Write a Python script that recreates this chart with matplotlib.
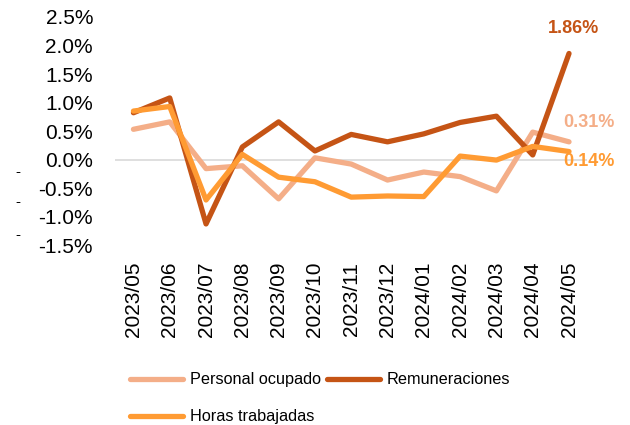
import matplotlib
matplotlib.use("Agg")
import matplotlib.pyplot as plt
from matplotlib.ticker import FuncFormatter

plt.rcParams['font.family'] = ['Liberation Sans', 'DejaVu Sans']

meses = ["2023/05", "2023/06", "2023/07", "2023/08", "2023/09", "2023/10", "2023/11",
         "2023/12", "2024/01", "2024/02", "2024/03", "2024/04", "2024/05"]
personal = [0.53, 0.66, -0.16, -0.11, -0.69, 0.03, -0.08, -0.36, -0.22, -0.30, -0.55, 0.48, 0.31]
remuneraciones = [0.82, 1.08, -1.13, 0.22, 0.66, 0.15, 0.44, 0.31, 0.45, 0.65, 0.76, 0.08, 1.86]
horas = [0.85, 0.93, -0.71, 0.09, -0.31, -0.39, -0.66, -0.64, -0.65, 0.06, -0.01, 0.23, 0.14]

c_pers = "#F4AE88"
c_rem = "#C55415"
c_hor = "#FF9B33"

fig = plt.figure(figsize=(6.3, 4.25), dpi=100)
ax = fig.add_axes([0.183, 0.4235, 0.749, 0.5365])
x = range(len(meses))

ax.axhline(0, color="#D9D9D9", lw=1.2, zorder=1)
l1, = ax.plot(x, personal, color=c_pers, lw=3.8, label="Personal ocupado", zorder=2,
              solid_capstyle="round")
l2, = ax.plot(x, remuneraciones, color=c_rem, lw=3.8, label="Remuneraciones", zorder=3,
              solid_capstyle="round")
l3, = ax.plot(x, horas, color=c_hor, lw=3.8, label="Horas trabajadas", zorder=4,
              solid_capstyle="round")

ax.set_xlim(-0.5, len(meses) - 0.5)
ax.set_ylim(-1.5, 2.5)
ax.set_yticks([-1.5, -1.0, -0.5, 0, 0.5, 1.0, 1.5, 2.0, 2.5])
ax.yaxis.set_major_formatter(FuncFormatter(lambda v, p: f"{v:.1f}%"))
ax.set_xticks(list(x))
ax.set_xticklabels(meses, rotation=90)
ax.tick_params(axis="both", length=0, labelsize=15, colors="#000000")
ax.tick_params(axis="y", pad=16)
ax.tick_params(axis="x", pad=12)
for s in ax.spines.values():
    s.set_visible(False)

# etiquetas del último dato
last = len(meses) - 1
ax.annotate(f"{remuneraciones[-1]:.2f}%", (last, remuneraciones[-1]), xytext=(3, 18),
            textcoords="offset points", ha="center", va="center",
            color=c_rem, fontsize=13, fontweight="bold")
ax.annotate(f"{personal[-1]:.2f}%", (last, personal[-1]), xytext=(14, 14),
            textcoords="offset points", ha="center", va="center",
            color=c_pers, fontsize=13, fontweight="bold")
ax.annotate(f"{horas[-1]:.2f}%", (last, horas[-1]), xytext=(14, -7),
            textcoords="offset points", ha="center", va="center",
            color=c_hor, fontsize=13, fontweight="bold")

# guiones sueltos a la izquierda
for py in [172, 202, 235]:
    fig.text(0.029, 1 - py / 425, "-", fontsize=11, ha="center", va="center")

fig.legend([l1, l3, l2], ["Personal ocupado", "Horas trabajadas", "Remuneraciones"],
           loc="upper left", bbox_to_anchor=(0.206, 0.124), ncol=2, frameon=False,
           fontsize=11.7, handlelength=3.3, handletextpad=0.4, columnspacing=0.35,
           labelspacing=1.35, borderaxespad=0, borderpad=0)

plt.savefig("out.png", dpi=100)
